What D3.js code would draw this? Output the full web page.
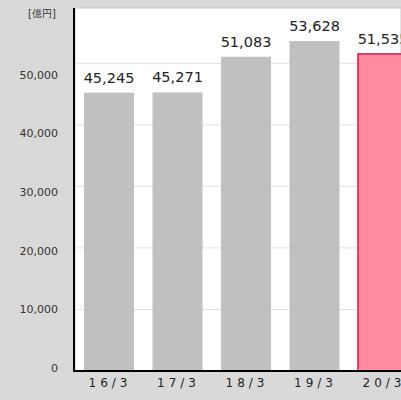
<!DOCTYPE html>
<html>
<head>
<meta charset="utf-8">
<script src="https://cdnjs.cloudflare.com/ajax/libs/d3/7.8.5/d3.min.js"></script>
<style>
  body { margin: 0; background: #d9d9d9; }
  svg { display: block; }
  text { font-family: "DejaVu Sans", Verdana, sans-serif; }
</style>
</head>
<body>
<svg></svg>
<script>
var width = 401, height = 400;

var categories = ["16/3", "17/3", "18/3", "19/3", "20/3"];
var values = [45245, 45271, 51083, 53628, 51535];
var yTicks = [0, 10000, 20000, 30000, 40000, 50000];
var unitLabel = "[億円]";

var plot = { left: 75, top: 8, bottom: 371 };

var svg = d3.select("svg").attr("width", width).attr("height", height);

svg.append("rect")
  .attr("x", plot.left).attr("y", plot.top)
  .attr("width", width - plot.left).attr("height", plot.bottom - plot.top)
  .attr("fill", "#fff").attr("stroke", "#c8c8c8");

var y = d3.scaleLinear().domain([0, 59000]).range([plot.bottom, plot.top]);

var x = d3.scaleBand()
  .domain(categories)
  .range([84, 84 + 68.5 * (categories.length - 0.27)])
  .paddingInner(0.27).paddingOuter(0);

// gridlines
svg.append("g").selectAll("line")
  .data(yTicks.slice(1)).enter()
  .append("line")
  .attr("x1", plot.left).attr("x2", width)
  .attr("y1", function(d) { return y(d); })
  .attr("y2", function(d) { return y(d); })
  .attr("stroke", "#e2e2e2");

// tick labels (spaced a bit tighter than the gridlines, like the original)
var labelY = d3.scaleLinear().domain([0, 50000]).range([368, 75]);
svg.append("g").selectAll("text")
  .data(yTicks).enter()
  .append("text")
  .attr("x", 58)
  .attr("y", function(d) { return labelY(d); })
  .attr("dy", "0.35em")
  .attr("text-anchor", "end")
  .attr("font-size", "11px")
  .attr("fill", "#333")
  .text(function(d) { return d3.format(",")(d); });

svg.append("text")
  .attr("x", 42).attr("y", 13).attr("dy", "0.35em")
  .attr("text-anchor", "middle")
  .attr("font-size", "10px")
  .attr("fill", "#333")
  .text(unitLabel);

// bars
var last = categories.length - 1;
svg.append("g").selectAll("rect")
  .data(values).enter()
  .append("rect")
  .attr("x", function(d, i) { return x(categories[i]); })
  .attr("y", function(d) { return y(d); })
  .attr("width", x.bandwidth())
  .attr("height", function(d) { return plot.bottom - y(d); })
  .attr("fill", function(d, i) { return i == last ? "#ff8ba1" : "#c0c0c0"; })
  .attr("stroke", function(d, i) { return i == last ? "#d81b4a" : "none"; })
  .attr("stroke-width", 1.5);

// value labels
svg.append("g").selectAll("text")
  .data(values).enter()
  .append("text")
  .attr("x", function(d, i) { return x(categories[i]) + x.bandwidth() / 2; })
  .attr("y", function(d) { return y(d) - 10; })
  .attr("text-anchor", "middle")
  .attr("font-size", "14.5px")
  .attr("fill", "#222")
  .text(function(d) { return d3.format(",")(d); });

// axes
svg.append("line")
  .attr("x1", plot.left - 1).attr("x2", plot.left - 1)
  .attr("y1", plot.top).attr("y2", plot.bottom + 1)
  .attr("stroke", "#000").attr("stroke-width", 2);
svg.append("line")
  .attr("x1", plot.left - 2).attr("x2", width)
  .attr("y1", plot.bottom).attr("y2", plot.bottom)
  .attr("stroke", "#000").attr("stroke-width", 2);

// category labels
svg.append("g").selectAll("text")
  .data(categories).enter()
  .append("text")
  .attr("x", function(d) { return x(d) + x.bandwidth() / 2 + 1; })
  .attr("y", 387)
  .attr("text-anchor", "middle")
  .attr("font-size", "12px")
  .attr("letter-spacing", "4px")
  .attr("fill", "#222")
  .text(function(d) { return d; });
</script>
</body>
</html>
